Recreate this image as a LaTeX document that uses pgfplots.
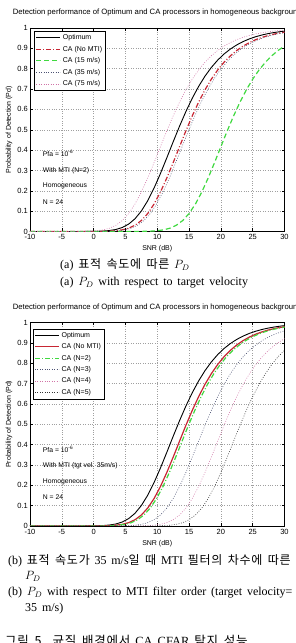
\documentclass[border=0pt]{standalone}
\usepackage{fontspec}
\usepackage{pgfplots}
\usepackage{pgfplotstable}
\pgfplotsset{compat=1.18}
\setmainfont{Liberation Serif}[WordSpace=1.6]
\setsansfont{Liberation Sans}
\newfontfamily\plotfont{Liberation Sans}
\newfontfamily\kr{Noto Sans CJK KR}[LetterSpace=6, WordSpace=1.6]

\definecolor{caRed}{rgb}{0.78,0.15,0.20}
\definecolor{mtiGreen}{rgb}{0.25,0.85,0.25}
\definecolor{dotPink}{rgb}{0.82,0.45,0.65}
\definecolor{dotGray}{rgb}{0.30,0.32,0.45}

% Probability of detection vs. SNR (dB), Pfa = 1e-6, N = 24 reference cells
\pgfplotstableread{
x y
-10 0
-2.5 0.0001
-1.5 0.0002
-0.5 0.0005
0.5 0.0010
1.5 0.0022
2.5 0.0048
3.5 0.0099
4.5 0.0196
5.5 0.0362
6.5 0.0624
7.5 0.1005
8.5 0.1510
9.5 0.2134
10.5 0.2848
11.5 0.3618
12.5 0.4405
13.5 0.5172
14.5 0.5892
15.5 0.6548
16.5 0.7128
17.5 0.7632
18.5 0.8061
19.5 0.8422
20.5 0.8722
21.5 0.8968
22.5 0.9170
23.5 0.9334
24.5 0.9467
25.5 0.9574
26.5 0.9660
27.5 0.9729
28.5 0.9784
29.5 0.9828
30.5 0.9863
}\optimum

\pgfplotstableread{
x y
-10 0
-0.5 0.0002
0.5 0.0004
1.5 0.0008
2.5 0.0018
3.5 0.0039
4.5 0.0082
5.5 0.0163
6.5 0.0307
7.5 0.0538
8.5 0.0882
9.5 0.1350
10.5 0.1938
11.5 0.2627
12.5 0.3383
13.5 0.4167
14.5 0.4943
15.5 0.5679
16.5 0.6355
17.5 0.6959
18.5 0.7485
19.5 0.7937
20.5 0.8317
21.5 0.8635
22.5 0.8897
23.5 0.9112
24.5 0.9287
25.5 0.9429
26.5 0.9543
27.5 0.9635
28.5 0.9709
29.5 0.9768
30.5 0.9815
}\canomti

% MTI N=2, target 35 m/s
\pgfplotstableread{
x y
-10 0
-0.1 0.0002
0.9 0.0004
1.9 0.0008
2.9 0.0018
3.9 0.0039
4.9 0.0082
5.9 0.0163
6.9 0.0307
7.9 0.0538
8.9 0.0882
9.9 0.1350
10.9 0.1938
11.9 0.2627
12.9 0.3383
13.9 0.4167
14.9 0.4943
15.9 0.5679
16.9 0.6355
17.9 0.6959
18.9 0.7485
19.9 0.7937
20.9 0.8317
21.9 0.8635
22.9 0.8897
23.9 0.9112
24.9 0.9287
25.9 0.9429
26.9 0.9543
27.9 0.9635
28.9 0.9709
29.9 0.9768
30.9 0.9815
}\caThirtyFive

% MTI N=2, target 15 m/s
\pgfplotstableread{
x y
-10 0
6 0.0002
7 0.0004
8 0.0008
9 0.0018
10 0.0039
11 0.0082
12 0.0163
13 0.0307
14 0.0538
15 0.0882
16 0.1350
17 0.1938
18 0.2627
19 0.3383
20 0.4167
21 0.4943
22 0.5679
23 0.6355
24 0.6959
25 0.7485
26 0.7937
27 0.8317
28 0.8635
29 0.8897
30 0.9112
}\caFifteen

% MTI N=2, target 75 m/s
\pgfplotstableread{
x y
-10 0
-3.5 0.0002
-2.5 0.0004
-1.5 0.0008
-0.5 0.0018
0.5 0.0039
1.5 0.0082
2.5 0.0163
3.5 0.0307
4.5 0.0538
5.5 0.0882
6.5 0.1350
7.5 0.1938
8.5 0.2627
9.5 0.3383
10.5 0.4167
11.5 0.4943
12.5 0.5679
13.5 0.6355
14.5 0.6959
15.5 0.7485
16.5 0.7937
17.5 0.8317
18.5 0.8635
19.5 0.8897
20.5 0.9112
21.5 0.9287
22.5 0.9429
23.5 0.9543
24.5 0.9635
25.5 0.9709
26.5 0.9768
27.5 0.9815
28.5 0.9853
29.5 0.9883
30.5 0.9907
}\caSeventyFive

% MTI filter order N=3, 4, 5 (target 35 m/s)
\pgfplotstableread{
x y
-10 0
2.5 0.0002
3.5 0.0004
4.5 0.0008
5.5 0.0018
6.5 0.0039
7.5 0.0082
8.5 0.0163
9.5 0.0307
10.5 0.0538
11.5 0.0882
12.5 0.1350
13.5 0.1938
14.5 0.2627
15.5 0.3383
16.5 0.4167
17.5 0.4943
18.5 0.5679
19.5 0.6355
20.5 0.6959
21.5 0.7485
22.5 0.7937
23.5 0.8317
24.5 0.8635
25.5 0.8897
26.5 0.9112
27.5 0.9287
28.5 0.9429
29.5 0.9543
30.5 0.9635
}\caNthree

\pgfplotstableread{
x y
-10 0
5.5 0.0002
6.5 0.0004
7.5 0.0008
8.5 0.0018
9.5 0.0039
10.5 0.0082
11.5 0.0163
12.5 0.0307
13.5 0.0538
14.5 0.0882
15.5 0.1350
16.5 0.1938
17.5 0.2627
18.5 0.3383
19.5 0.4167
20.5 0.4943
21.5 0.5679
22.5 0.6355
23.5 0.6959
24.5 0.7485
25.5 0.7937
26.5 0.8317
27.5 0.8635
28.5 0.8897
29.5 0.9112
30.5 0.9287
}\caNfour

\pgfplotstableread{
x y
-10 0
8 0.0002
9 0.0004
10 0.0008
11 0.0018
12 0.0039
13 0.0082
14 0.0163
15 0.0307
16 0.0538
17 0.0882
18 0.1350
19 0.1938
20 0.2627
21 0.3383
22 0.4167
23 0.4943
24 0.5679
25 0.6355
26 0.6959
27 0.7485
28 0.7937
29 0.8317
30 0.8635
}\caNfive

\pgfplotsset{
  pdplot/.style={
    scale only axis, width=254.5pt, height=203.5pt,
    xmin=-10, xmax=30, ymin=0, ymax=1,
    xtick={-10,-5,0,5,10,15,20,25,30},
    ytick={0,0.1,0.2,0.3,0.4,0.5,0.6,0.7,0.8,0.9,1},
    yticklabels={0,0.1,0.2,0.3,0.4,0.5,0.6,0.7,0.8,0.9,1},
    grid=major, grid style={dotted, gray!75, line width=0.45pt},
    tick align=inside, major tick length=3pt,
    axis line style={line width=0.5pt},
    every tick/.style={black, line width=0.4pt},
    /pgf/number format/assume math mode=true,
    tick label style={font=\plotfont\fontsize{7.5}{8}\selectfont},
    xticklabel style={anchor=north, inner sep=0pt, yshift=-3pt},
    yticklabel style={anchor=east, inner sep=0pt, xshift=-2pt},
    xlabel={SNR (dB)}, ylabel={Probability of Detection (Pd)},
    every axis x label/.style={at={(rel axis cs:0.5,0)}, yshift=-17.5pt, anchor=center,
      font=\plotfont\fontsize{7}{8}\selectfont},
    every axis y label/.style={at={(rel axis cs:0,0.5)}, xshift=-21pt, rotate=90, anchor=center,
      font=\plotfont\fontsize{7}{8}\selectfont},
    title style={font=\plotfont\fontsize{7.7}{8}\selectfont, at={(0.5,1)}, yshift=9pt, anchor=center},
    title={Detection performance of Optimum and CA processors in homogeneous background},
    legend style={font=\plotfont\fontsize{7}{8}\selectfont, anchor=north west,
      draw=black, inner sep=1.2pt, row sep=0.9pt, cells={anchor=west}},
    legend image code/.code={\draw[#1] (0pt,0pt) -- (24pt,0pt);},
    clip=true,
  },
}
\tikzset{note/.style={font=\plotfont\fontsize{6.8}{8}\selectfont, anchor=west, inner sep=0pt}}

\begin{document}
\begin{tikzpicture}
\useasboundingbox (0,0) rectangle (295pt,643pt);

% (a) detection probability for several target velocities
\begin{axis}[pdplot, at={(30pt,411.5pt)}, anchor=south west,
  legend style={at={(0.017,0.984)}}]
\addplot[black, line width=0.9pt] table {\optimum};
\addlegendentry{Optimum}
\addplot[caRed, line width=1.2pt, dash pattern=on 5pt off 2pt on 1pt off 2pt] table {\canomti};
\addlegendentry{CA (No MTI)}
\addplot[mtiGreen, line width=1.2pt, dash pattern=on 5pt off 3pt] table {\caFifteen};
\addlegendentry{CA (15 m/s)}
\addplot[dotGray, line width=0.6pt, dash pattern=on 0.8pt off 1.6pt] table {\caThirtyFive};
\addlegendentry{CA (35 m/s)}
\addplot[dotPink, line width=0.6pt, dash pattern=on 0.8pt off 1.6pt] table {\caSeventyFive};
\addlegendentry{CA (75 m/s)}
\node[note] at (axis cs:-8,0.384) {Pfa = 10\textsuperscript{-6}};
\node[note] at (axis cs:-8,0.300) {With MTI (N=2)};
\node[note] at (axis cs:-8,0.222) {Homogeneous};
\node[note] at (axis cs:-8,0.143) {N = 24};
\end{axis}

% (b) detection probability for several MTI filter orders
\begin{axis}[pdplot, at={(30pt,117pt)}, anchor=south west,
  legend style={at={(0.012,0.97)}}]
\addplot[black, line width=0.9pt] table {\optimum};
\addlegendentry{Optimum}
\addplot[caRed, line width=1.2pt] table {\canomti};
\addlegendentry{CA (No MTI)}
\addplot[mtiGreen, line width=1.2pt, dash pattern=on 5pt off 2pt on 1pt off 2pt] table {\caThirtyFive};
\addlegendentry{CA (N=2)}
\addplot[dotGray, line width=0.6pt, dash pattern=on 0.8pt off 1.6pt] table {\caNthree};
\addlegendentry{CA (N=3)}
\addplot[dotPink, line width=0.6pt, dash pattern=on 0.8pt off 1.6pt] table {\caNfour};
\addlegendentry{CA (N=4)}
\addplot[black!80, line width=0.6pt, dash pattern=on 0.8pt off 1.6pt] table {\caNfive};
\addlegendentry{CA (N=5)}
\node[note] at (axis cs:-8,0.375) {Pfa = 10\textsuperscript{-6}};
\node[note] at (axis cs:-8,0.298) {With MTI (tgt vel. 35m/s)};
\node[note] at (axis cs:-8,0.218) {Homogeneous};
\node[note] at (axis cs:-8,0.140) {N = 24};
\end{axis}

% captions
\begin{scope}[every node/.style={anchor=base west, inner sep=0pt, font=\fontsize{12}{14}\selectfont}]
\node at (60pt,374pt) {(a) {\kr 표적 속도에 따른} $P_D$};
\node at (60pt,357.5pt) {(a) $P_D$ with respect to target velocity};
\node at (8pt,78.5pt) {(b) {\kr 표적 속도가} 35 m/s{\kr 일 때} MTI {\kr 필터의 차수에 따른}};
\node at (25pt,63pt) {$P_D$};
\node at (8pt,47.5pt) {(b) $P_D$ with respect to MTI filter order (target velocity=};
\node at (25pt,31pt) {35 m/s)};
\node[font=\fontsize{12.5}{15}\selectfont] at (5pt,-2.5pt) {{\kr 그림 5. 균질 배경에서} CA CFAR {\kr 탐지 성능}};
\end{scope}
\end{tikzpicture}
\end{document}
